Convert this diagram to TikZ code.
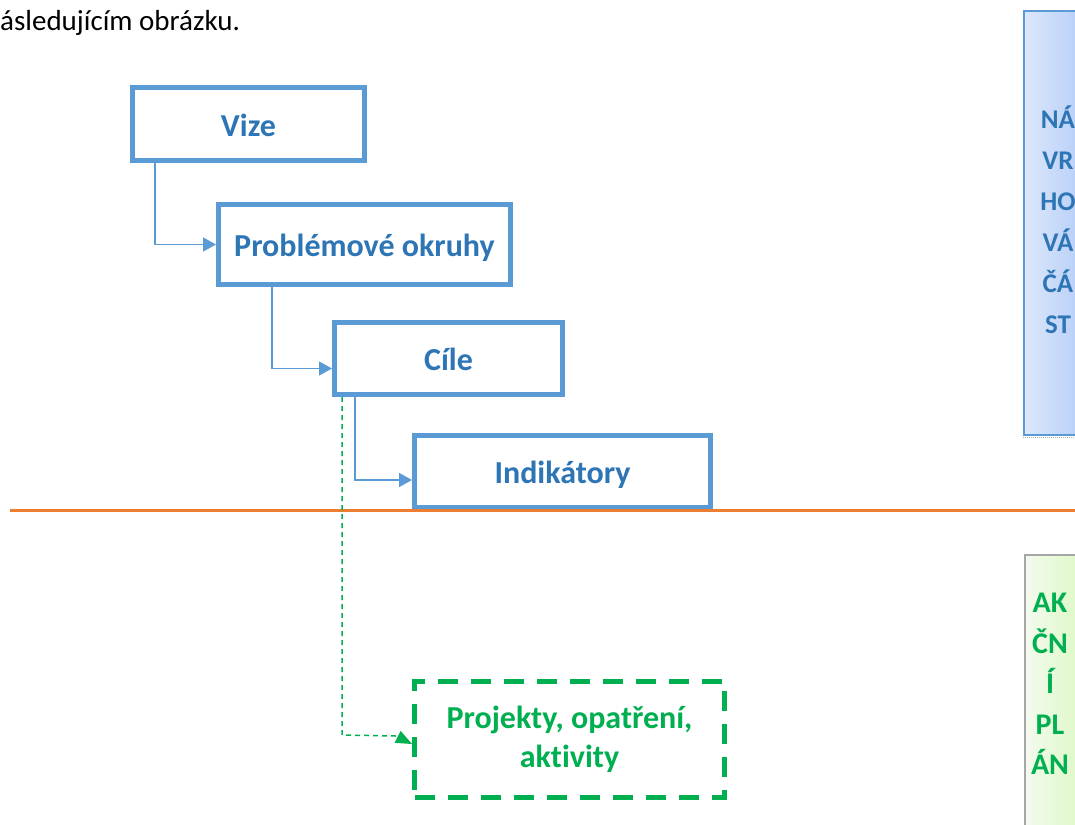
\documentclass[tikz,border=0pt]{standalone}
\usepackage{fontspec}
\setmainfont{Carlito}[Ligatures=CommonOff]
\usetikzlibrary{arrows.meta,calc}
\definecolor{boxblue}{HTML}{5B9BD5}
\definecolor{txtblue}{HTML}{2E75B6}
\definecolor{grn}{HTML}{00B050}
\definecolor{orng}{HTML}{ED7D31}
\definecolor{bluel}{HTML}{DDE7FB}
\definecolor{bluer}{HTML}{B0CBF8}
\definecolor{grnl}{HTML}{F4FAEE}
\definecolor{grnr}{HTML}{DCF9C4}
\begin{document}
\begin{tikzpicture}[x=1pt,y=-1pt,
  stage/.style={draw=boxblue, line width=5pt, fill=white, text=txtblue,
    font=\fontsize{32}{38}\selectfont\bfseries, inner sep=0pt,
    text height=26pt, text depth=2pt},
  link/.style={draw=boxblue, line width=1.5pt, -{Triangle[length=13pt,width=14pt]}},
  glink/.style={draw=grn, line width=1.5pt, dash pattern=on 5pt off 4pt,
    -{Triangle[length=16pt,width=13pt]}},
  sidebox/.style={line width=2pt, inner sep=0pt}]
\clip (0,0) rectangle (1075,824);
\useasboundingbox (0,0) rectangle (1075,824);
\fill[white] (0,0) rectangle (1075,824);

\node[anchor=base west, inner sep=0pt, font=\fontsize{29}{34}\selectfont] (intro) at (0,31) {ásledujícím obrázku.};

\node[stage, minimum width=232pt, minimum height=73pt] (vize) at (248.5,124) {Vize};
\node[stage, minimum width=292pt, minimum height=80pt] (prob) at (364.5,244.5) {Problémové okruhy};
\node[stage, minimum width=228pt, minimum height=72pt] (cile) at (448.5,358.5) {Cíle};
\node[stage, minimum width=296pt, minimum height=72pt] (ind) at (562.5,471.5) {Indikátory};

\draw[link] ($(vize.south west)+(25,0)$) |- (prob.west);
\draw[link] ($(prob.south west)+(56,0)$) |- ($(cile.west)+(0,10)$);
\draw[link] ($(cile.south west)+(23,0)$) |- ($(ind.west)+(0,8.5)$);

\coordinate (ol) at (10,510);
\coordinate (or) at (1075,510);
\draw[orng, line width=3pt] (ol) -- (or);

\node[draw=grn, line width=5pt, dash pattern=on 20pt off 13pt, text=grn, align=center,
  font=\fontsize{32}{39}\selectfont\bfseries, minimum width=310pt, minimum height=116pt,
  inner sep=0pt] (proj) at (569.5,739) {Projekty, opatření,\\aktivity};

\draw[glink] ($(cile.south west)+(10,0)$) -- ++(0,338) -- ++(54,1) -- ($(proj.west)+(0,5)$);

\node[sidebox, draw=boxblue, left color=bluel, right color=bluer,
  minimum width=68pt, minimum height=424pt] (navrh) at (1058,223) {};
\draw[gray!60, line width=1.5pt, dash pattern=on 1pt off 1pt]
  ($(navrh.south west)+(0,1.5)$) -- ($(navrh.south east)+(0,1.5)$);
\node[text=txtblue, font=\fontsize{27}{41}\selectfont\bfseries, align=center, inner sep=0pt]
  (navrhtxt) at (1058,220) {NÁ\\VR\\HO\\VÁ\\ČÁ\\ST};

\node[sidebox, draw=gray!70, left color=grnl, right color=grnr,
  minimum width=60pt, minimum height=280pt] (akcni) at (1055,695) {};
\node[text=grn, font=\fontsize{30}{40.5}\selectfont\bfseries, align=center, inner sep=0pt]
  (akcnitxt) at (1050,684) {AK\\ČN\\Í\\PL\\ÁN};
\end{tikzpicture}
\end{document}
